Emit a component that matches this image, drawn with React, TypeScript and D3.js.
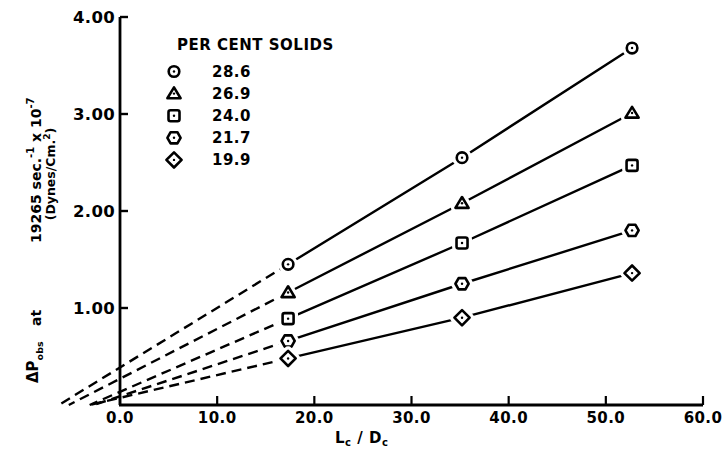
import React from "react";
import * as d3 from "d3";

// L_c / D_c values at which pressure drops were measured
const lcdc = [17.3, 35.2, 52.7];

// Per cent solids for each series (legend order)
const solids = ["28.6", "26.9", "24.0", "21.7", "19.9"];

// ΔP_obs at 19265 sec^-1, x 10^-7 dynes/cm^2
const dp286 = [1.45, 2.55, 3.68];
const dp269 = [1.16, 2.08, 3.01];
const dp240 = [0.89, 1.67, 2.47];
const dp217 = [0.66, 1.25, 1.8];
const dp199 = [0.48, 0.9, 1.36];

const xTicks = [0, 10, 20, 30, 40, 50, 60];
const yTicks = [1, 2, 3, 4];

const W = 723;
const H = 450;
const FONT = "'DejaVu Sans', Verdana, sans-serif";

type Kind = "circle" | "triangle" | "square" | "hexagon" | "diamond";
const kinds: Kind[] = ["circle", "triangle", "square", "hexagon", "diamond"];
const seriesValues = [dp286, dp269, dp240, dp217, dp199];

function markerPath(kind: Kind): string {
  switch (kind) {
    case "circle": {
      const p = d3.path();
      p.arc(0, 0, 5.3, 0, Math.PI * 2);
      p.closePath();
      return p.toString();
    }
    case "triangle":
      return "M0,-6.2L6.6,4.6L-6.6,4.6Z";
    case "square":
      return "M-3.5,-5.5H3.5Q5.5,-5.5 5.5,-3.5V3.5Q5.5,5.5 3.5,5.5H-3.5Q-5.5,5.5 -5.5,3.5V-3.5Q-5.5,-5.5 -3.5,-5.5Z";
    case "hexagon":
      return "M-6.6,0L-3.4,-5.6L3.4,-5.6L6.6,0L3.4,5.6L-3.4,5.6Z";
    case "diamond":
      return "M0,-7.6L7.6,0L0,7.6L-7.6,0Z";
  }
}

function Marker({ kind, x, y }: { kind: Kind; x: number; y: number }) {
  const d = markerPath(kind);
  return (
    <g transform={`translate(${x},${y})`}>
      <path d={d} fill="#fff" stroke="#fff" strokeWidth={9} strokeLinejoin="round" />
      <path d={d} fill="#fff" stroke="#000" strokeWidth={2.6} strokeLinejoin="round" />
      <circle r={1.2} fill="#000" />
    </g>
  );
}

export default function App() {
  const x = d3.scaleLinear().domain([0, 60]).range([120, 703]);
  const y = d3.scaleLinear().domain([0, 4]).range([405, 17]);

  const line = d3
    .line<[number, number]>()
    .x((d) => x(d[0]))
    .y((d) => y(d[1]));

  const textStyle = {
    fontFamily: FONT,
    fontWeight: "bold",
    fill: "#000",
  } as const;

  return (
    <svg
      width={W}
      height={H}
      viewBox={`0 0 ${W} ${H}`}
      style={{ position: "absolute", left: 0, top: 0, background: "#fff" }}
    >
      <rect width={W} height={H} fill="#fff" />

      {/* extrapolated dashed lines back to zero pressure drop */}
      {seriesValues.map((vals, i) => {
        const x1 = lcdc[0];
        const y1 = vals[0];
        const slope = (vals[1] - vals[0]) / (lcdc[1] - lcdc[0]);
        const x0 = x1 - y1 / slope;
        return (
          <path
            key={`dash-${i}`}
            d={line([
              [x1, y1],
              [x0, 0],
            ]) as string}
            fill="none"
            stroke="#000"
            strokeWidth={2.4}
            strokeDasharray="10,6"
          />
        );
      })}

      {/* axes */}
      <line x1={x(0)} x2={x(0)} y1={y(0)} y2={y(4)} stroke="#000" strokeWidth={2.8} />
      <line x1={x(0) - 1} x2={x(60)} y1={y(0)} y2={y(0)} stroke="#000" strokeWidth={3.2} />
      {yTicks.map((t) => (
        <g key={`yt-${t}`}>
          <line x1={x(0)} x2={x(0) + 8} y1={y(t)} y2={y(t)} stroke="#000" strokeWidth={2.4} />
          <text
            x={115}
            y={y(t)}
            dy="0.36em"
            textAnchor="end"
            fontSize={16.5}
            letterSpacing={0.3}
            style={textStyle}
          >
            {t.toFixed(2)}
          </text>
        </g>
      ))}
      {xTicks.map((t) => (
        <g key={`xt-${t}`}>
          <line x1={x(t)} x2={x(t)} y1={y(0)} y2={y(0) - 9} stroke="#000" strokeWidth={2.2} />
          <text
            x={x(t)}
            y={423}
            textAnchor="middle"
            fontSize={15}
            letterSpacing={0.4}
            style={textStyle}
          >
            {t.toFixed(1)}
          </text>
        </g>
      ))}

      {/* solid fitted lines through measured points */}
      {seriesValues.map((vals, i) => (
        <path
          key={`line-${i}`}
          d={line(lcdc.map((v, j) => [v, vals[j]] as [number, number])) as string}
          fill="none"
          stroke="#000"
          strokeWidth={2.4}
        />
      ))}

      {/* markers */}
      {seriesValues.map((vals, i) =>
        vals.map((v, j) => (
          <Marker key={`m-${i}-${j}`} kind={kinds[i]} x={x(lcdc[j])} y={y(v)} />
        ))
      )}

      {/* legend */}
      <text x={177} y={50} fontSize={15} letterSpacing={0.5} style={textStyle}>
        PER CENT SOLIDS
      </text>
      {solids.map((s, i) => {
        const cy = 71.5 + i * 22.1;
        return (
          <g key={`leg-${i}`}>
            <Marker kind={kinds[i]} x={174} y={cy} />
            <text x={212} y={cy} dy="0.36em" fontSize={15} letterSpacing={0.5} style={textStyle}>
              {s}
            </text>
          </g>
        );
      })}

      {/* x axis title */}
      <text x={335} y={443} fontSize={15} letterSpacing={0.5} style={textStyle}>
        L
        <tspan fontSize={10} dy={3}>c</tspan>
        <tspan dy={-3}>{" / D"}</tspan>
        <tspan fontSize={10} dy={3}>c</tspan>
      </text>

      {/* y axis title */}
      <g transform="translate(41,0) rotate(-90)">
        <text x={-383} y={-3} fontSize={15} style={textStyle}>
          ΔP
          <tspan fontSize={9.5} dy={5}>obs</tspan>
        </text>
        <text x={-326} y={0} fontSize={14} style={textStyle}>
          at
        </text>
        <text x={-243} y={0} fontSize={14} style={textStyle}>
          19265 sec.
          <tspan fontSize={10} dy={-7}>-1</tspan>
          <tspan dy={7}>{" x 10"}</tspan>
          <tspan fontSize={10} dy={-7}>-7</tspan>
        </text>
        <text x={-174} y={14} fontSize={12.5} textAnchor="middle" style={textStyle}>
          (Dynes/Cm.
          <tspan fontSize={9} dy={-5}>2</tspan>
          <tspan dy={5}>)</tspan>
        </text>
      </g>
    </svg>
  );
}
